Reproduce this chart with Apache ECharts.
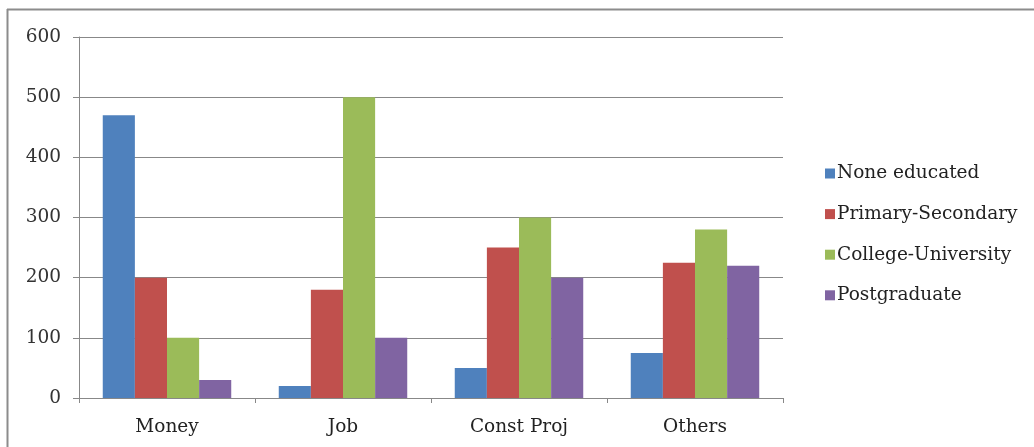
<!DOCTYPE html>
<html>
<head>
<meta charset="utf-8">
<script src="https://cdn.jsdelivr.net/npm/echarts@6/dist/echarts.min.js"></script>
<style>
  html, body { margin: 0; padding: 0; background: #fff; }
  #chart { width: 1034px; height: 447px; }
</style>
</head>
<body>
<div id="chart"></div>
<script>
// Survey categories and counts per education level
const categories = ['Money', 'Job', 'Const Proj', 'Others'];
const noneEducated = [470, 20, 50, 75];
const primarySecondary = [200, 180, 250, 225];
const collegeUniversity = [100, 500, 300, 280];
const postgraduate = [30, 100, 200, 220];
const yTicks = { min: 0, max: 600, interval: 100 };

const FONT = '"DejaVu Serif", "Liberation Serif", serif';
const AXIS_GREY = '#888888';

function barSeries(name, data, color) {
  return {
    name: name,
    type: 'bar',
    data: data,
    barGap: '0%',
    barCategoryGap: '27%',
    itemStyle: { color: color },
    emphasis: { disabled: true }
  };
}

const chart = echarts.init(document.getElementById('chart'), null, { renderer: 'canvas' });
chart.setOption({
  animation: false,
  backgroundColor: '#ffffff',
  textStyle: { fontFamily: FONT },
  grid: { left: 79, right: 251, top: 37, bottom: 49, containLabel: false },
  legend: {
    orient: 'vertical',
    left: 820,
    top: 159,
    itemWidth: 10,
    itemHeight: 10,
    itemGap: 21.6,
    icon: 'rect',
    textStyle: { fontFamily: FONT, fontSize: 18.5, lineHeight: 19, color: '#222', padding: [0, 0, 0, -3] },
    data: ['None educated', 'Primary-Secondary', 'College-University', 'Postgraduate']
  },
  xAxis: {
    type: 'category',
    data: categories,
    axisLine: { show: true, lineStyle: { color: AXIS_GREY, width: 1 } },
    axisTick: { show: true, length: 5, lineStyle: { color: AXIS_GREY } },
    axisLabel: { fontFamily: FONT, fontSize: 18.5, color: '#222', margin: 20 },
    splitLine: { show: false }
  },
  yAxis: {
    type: 'value',
    min: yTicks.min,
    max: yTicks.max,
    interval: yTicks.interval,
    axisLine: { show: true, lineStyle: { color: AXIS_GREY, width: 1 } },
    axisTick: { show: true, length: 6, lineStyle: { color: AXIS_GREY } },
    axisLabel: { fontFamily: FONT, fontSize: 18.5, color: '#333', margin: 18 },
    splitLine: { show: true, lineStyle: { color: AXIS_GREY, width: 1 } }
  },
  graphic: [
    { type: 'line', shape: { x1: 7, y1: 9.5, x2: 1034, y2: 9.5 }, style: { stroke: '#8c8c8c', lineWidth: 2 }, silent: true },
    { type: 'line', shape: { x1: 7.5, y1: 9, x2: 7.5, y2: 447 }, style: { stroke: '#8c8c8c', lineWidth: 2 }, silent: true }
  ],
  series: [
    barSeries('None educated', noneEducated, '#4f81bd'),
    barSeries('Primary-Secondary', primarySecondary, '#c0504d'),
    barSeries('College-University', collegeUniversity, '#9bbb59'),
    barSeries('Postgraduate', postgraduate, '#8064a2')
  ]
});
</script>
</body>
</html>
